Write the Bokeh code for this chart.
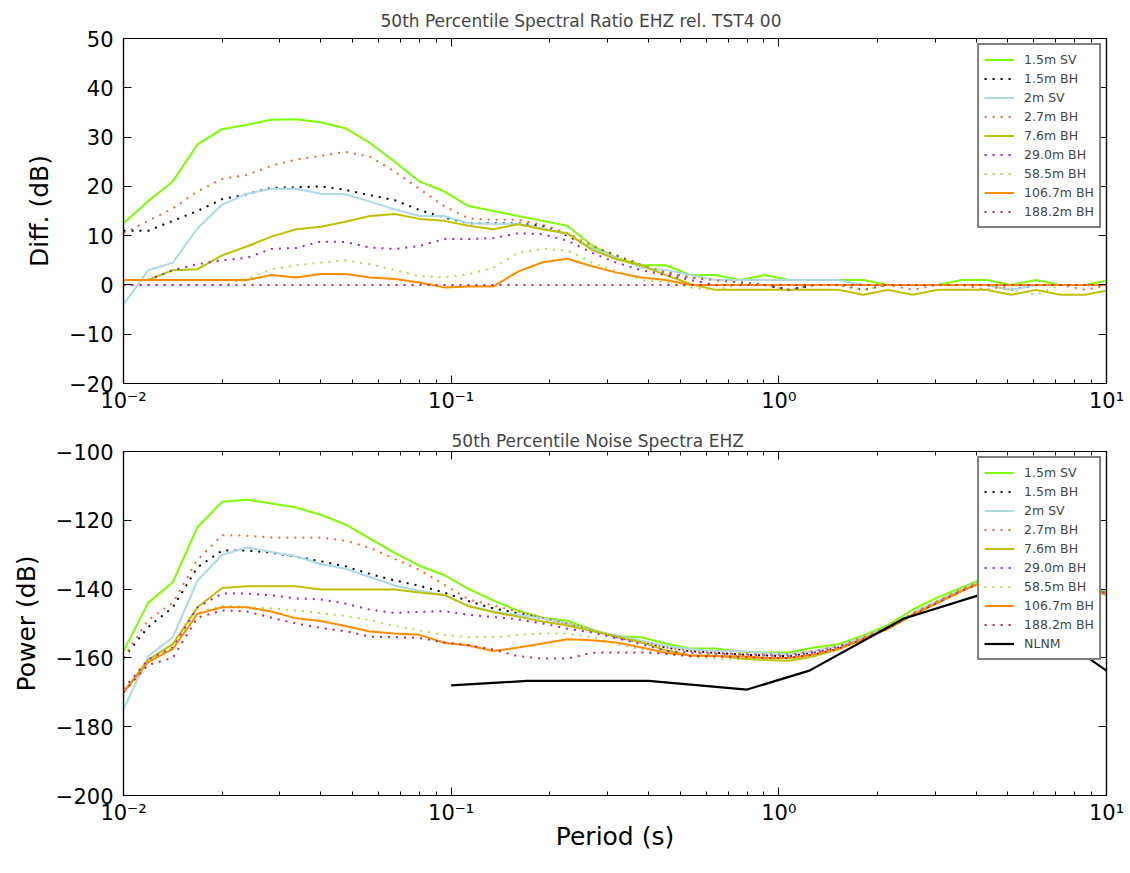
from bokeh.plotting import figure
from bokeh.layouts import column
from bokeh.models import (Range1d, FixedTicker, CustomJSTickFormatter, LogAxis,
                          LinearAxis)
from bokeh.embed import file_html
from bokeh.resources import INLINE

# ---------------- data ----------------
# period grid (quarter-octave steps from 0.01 s)
periods = [round(0.01 * 2 ** (k / 4), 6) for k in range(41)]

labels = ["1.5m SV", "1.5m BH", "2m SV", "2.7m BH", "7.6m BH",
          "29.0m BH", "58.5m BH", "106.7m BH", "188.2m BH"]

# spectral ratio (dB) relative to TST4 00
ratio_sv15 = [12.5, 17, 21, 28.5, 31.6, 32.5, 33.5, 33.6, 33, 31.8, 28.8, 25, 21, 19,
              16, 15, 14, 13, 12, 8, 5.5, 4, 4, 2, 2, 1, 2, 1, 1, 1, 1, 0, 0, 0, 1, 1,
              0, 1, 0, 0, 1]
ratio_bh15 = [11, 11, 13, 15, 17.4, 18.4, 19.7, 19.8, 20, 19.3, 18.2, 17.2, 15.2, 13.7,
              12.5, 12.5, 12.5, 12, 10, 7.5, 6, 4, 2.5, 1.5, 1, 0.5, 0, -1, 0, 0, 0, 0,
              0, 0, 0, 0, -1, 0, 0, 0, 0]
ratio_sv2 = [-4, 3, 4.5, 11.5, 16.3, 18.5, 19.5, 19.5, 18.5, 18.4, 16.9, 15.3, 14, 14,
             12.5, 12.4, 12.4, 11.5, 10.3, 7.5, 5.5, 3.5, 3, 2, 1, 1, 1, 1, 1, 1, 0, 0,
             0, 0, 0, 0, -1, 0, 0, 0, 0]
ratio_bh27 = [10.5, 13, 15.5, 19, 21.5, 22.3, 24.2, 25.4, 26.2, 27, 26, 23, 19.5, 16,
              13.5, 13.2, 13.2, 12.2, 10.5, 8, 6, 4, 2.5, 1.5, 1, 0.5, 0, 0, 0, 0, 0, 0,
              -1, 0, 0, -1, 0, 0, 0, -1, 0]
ratio_bh76 = [1, 1, 3, 3.2, 6, 7.8, 9.8, 11.3, 11.8, 12.8, 14, 14.4, 13.4, 13, 12, 11.3,
              12.3, 11.3, 10.5, 7.1, 5.2, 4, 2, 0.2, -1, -1, -1, -1, -1, -1, -2, -1, -2,
              -1, -1, -1, -2, -1, -2, -2, -1]
ratio_bh290 = [1, 1, 3, 4.2, 5, 5.5, 7.3, 7.5, 8.8, 8.7, 7.6, 7.3, 7.9, 9.3, 9.3, 9.5,
               10.5, 10.3, 9, 6.5, 4.5, 3, 2, 1, 0, 0, 0, -1, 0, 0, -1, 0, 0, 0, 0, 0,
               0, 0, 0, 0, 0]
ratio_bh585 = [0, 0, 0, 0, 0, 1.2, 3.2, 4, 4.5, 5, 4.2, 3, 1.8, 1.5, 2.2, 3.5, 6.5, 7.3,
               7, 4.5, 2.8, 1, 0.5, -0.5, -1, 0, 0, -1, 0, 0, -1, 0, 0, 0, 0, 0, -1, -2,
               0, 0, 0]
ratio_bh1067 = [1, 1, 1, 1, 1, 1, 2, 1.5, 2.2, 2.2, 1.5, 1.2, 0.5, -0.5, -0.3, -0.3, 2.7,
                4.6, 5.3, 3.8, 2.5, 1.5, 1, 0, 0, 0, 0, 0, 0, 0, 0, 0, 0, 0, 0, 0, 0, 0,
                0, 0, 0]
ratio_bh1882 = [0, 0, 0, 0, 0, 0, 0, 0, 0, 0, 0, 0, 0, 0, 0, 0, 0, 0, 0, 0, 0, 0, 0, 0,
                0, 0, 0, 0, 0, 0, 0, 0, 0, 0, 0, 0, 0, 0, 0, 0, 0]

# 50th percentile noise power (dB)
power_sv15 = [-158, -144, -138, -122, -114.6, -114, -115.1, -116.3, -118.4, -121.2,
              -125.3, -129.5, -133.2, -135.9, -140, -143.3, -146.3, -148.3, -149.2,
              -151.8, -153.7, -154, -155.8, -157.3, -157.3, -158.2, -158.4, -158.4,
              -157, -156, -153.5, -150.5, -146, -142.5, -139.5, -136.5, -135, -135.5,
              -137, -139, -141]
power_bh15 = [-160, -151, -145.3, -133.7, -128.8, -128.8, -129.4, -130.6, -131.9,
              -133.4, -135.6, -137.5, -139, -141, -143.5, -145.6, -147, -148.5, -150,
              -152, -154, -155.5, -157, -158, -158.5, -159, -159.3, -159.5, -158.3,
              -157, -154.5, -151.5, -147.5, -144, -140.5, -137.5, -136, -136, -137.5,
              -139.5, -141.5]
power_sv2 = [-175, -159.5, -154, -137.5, -130.1, -127.9, -129.2, -130.5, -132.7,
             -134.1, -136.5, -139, -140.5, -141.7, -144.8, -146.5, -147.5, -148.5, -150,
             -152, -153.5, -155, -156.5, -157.5, -158, -158, -158.5, -159, -158,
             -156.5, -154, -151, -147, -143.5, -140, -137, -135.5, -136, -137.5,
             -139.5, -141.5]
power_bh27 = [-160, -149, -144, -131.5, -124.3, -124.5, -125, -125, -125, -125.9, -128,
              -131.2, -134.4, -138.7, -143, -144.8, -146.5, -148.3, -150, -152, -154,
              -155.5, -157, -158, -158.5, -158.8, -159, -159, -158, -156.5, -154, -151,
              -147, -143.5, -140, -137, -135.5, -135.5, -137, -139, -141.5]
power_bh76 = [-170, -160.6, -156, -145.3, -139.7, -139.2, -139.2, -139.2, -140.1,
              -140.1, -140.1, -140.1, -141, -141.7, -145, -146.7, -148, -149.4, -150.6,
              -152.2, -153.8, -155.5, -157.8, -159.3, -159.3, -160.2, -160.6, -160.8,
              -159.5, -157.5, -154.5, -151.5, -147.5, -144, -140.5, -137.5, -136, -136,
              -137.5, -140, -142]
power_bh290 = [-169, -160.5, -157, -145.3, -141.3, -141.3, -141.8, -142.7, -143, -144.2,
               -146, -146.9, -146.6, -146.4, -147.5, -148.1, -148.8, -150, -151.5,
               -152.6, -154.3, -156, -158, -158.5, -158.8, -159, -159.3, -159.5, -158.5,
               -157, -154.5, -151.5, -147.5, -144, -140.5, -137.5, -136, -136, -137.5,
               -139.5, -141.5]
power_bh585 = [-170, -161, -157, -147, -144.8, -145.2, -145.6, -146.2, -147, -147.8,
               -149, -150.7, -152, -153.3, -154, -154, -153.3, -152.9, -152.9, -154,
               -156, -157.5, -158.6, -159.6, -160.2, -160.5, -160.5, -160.5, -159.5,
               -157.5, -154.5, -151.5, -147.5, -144, -140.5, -137.5, -136, -136, -137.5,
               -140, -142]
power_bh1067 = [-170, -161.2, -157.4, -147.2, -145.3, -145.3, -146.5, -148.5, -149.3,
                -150.7, -152.3, -152.9, -153.3, -155.6, -156.4, -158, -157, -155.8,
                -154.6, -154.9, -155.5, -157, -158.5, -159.3, -159.5, -159.5, -160, -160,
                -159, -157.3, -154.5, -151.5, -147.5, -144, -140.5, -137.5, -136, -136,
                -137.5, -139.5, -141.5]
power_bh1882 = [-170, -162, -160, -148.3, -146.2, -146.5, -148.3, -150, -151.3, -152.2,
                -153.8, -154, -154.2, -155.5, -156.3, -157.6, -159.5, -160.2, -160.2,
                -158.5, -158.4, -158.4, -158.8, -159.5, -159.5, -159.8, -160, -160, -159,
                -157.3, -154.5, -151.5, -147.5, -144, -140.5, -137.5, -136, -136, -137.5,
                -139.5, -141.5]

# Peterson New Low Noise Model
nlnm_period = [0.10, 0.17, 0.40, 0.80, 1.24, 2.40, 4.30, 5.00, 6.00, 10.00]
nlnm_power = [-168.0, -166.7, -166.7, -169.2, -163.7, -148.6, -141.1, -141.1, -149.0,
              -163.7]

ratio_series = [ratio_sv15, ratio_bh15, ratio_sv2, ratio_bh27, ratio_bh76,
                ratio_bh290, ratio_bh585, ratio_bh1067, ratio_bh1882]
power_series = [power_sv15, power_bh15, power_sv2, power_bh27, power_bh76,
                power_bh290, power_bh585, power_bh1067, power_bh1882]

# ---------------- styles ----------------
colors = ["#7CFC00", "#000000", "#ADD8E6", "#F4623A", "#BFBF00",
          "#9A22C8", "#A8E04A", "#FF8C00", "#C8215A"]
dashes = ["solid", "2 6", "solid", "2 6", "solid", "2 6", "2 6", "solid", "2 6"]

FONT = "DejaVu Sans"

x_major = [0.01, 0.1, 1, 10]
x_minor = [m * d for d in [0.01, 0.1, 1] for m in range(2, 10)]

sup_fmt = CustomJSTickFormatter(code="""
const sup = {'-':'\u207b','0':'\u2070','1':'\u00b9','2':'\u00b2','3':'\u00b3'};
const e = Math.round(Math.log10(tick));
return '10' + String(e).split('').map(c => sup[c]).join('');
""")
minus_fmt = CustomJSTickFormatter(code="""
return tick < 0 ? '\u2212' + Math.abs(tick) : String(tick);
""")
blank_fmt = CustomJSTickFormatter(code="return '';")


def style_axis(ax, labels_on=True):
    ax.axis_line_color = "black"
    ax.axis_line_width = 1.2
    ax.major_tick_in = 8
    ax.major_tick_out = 0
    ax.minor_tick_in = 4
    ax.minor_tick_out = 0
    ax.major_tick_line_color = "black"
    ax.minor_tick_line_color = "black"
    ax.major_label_text_font = FONT
    ax.major_label_text_font_size = "21px" if labels_on else "0px"
    ax.major_label_text_color = "black"
    ax.major_label_standoff = 10 if labels_on else 0
    ax.axis_label_text_font = FONT
    ax.axis_label_text_font_size = "25px"
    ax.axis_label_text_font_style = "normal"
    ax.axis_label_text_color = "black"


def make_fig(title, title_offset, title_standoff, yr, yticks, ylabel, frame_h, top,
             bottom):
    p = figure(x_axis_type="log", x_range=Range1d(0.01, 10), y_range=Range1d(*yr),
               frame_width=983, frame_height=frame_h,
               min_border_left=123, min_border_right=18,
               min_border_top=top, min_border_bottom=bottom,
               output_backend="svg", toolbar_location=None, title=title)
    p.title.text_font = FONT
    p.title.text_font_size = "17px"
    p.title.text_font_style = "normal"
    p.title.align = "left"
    p.title.offset = title_offset
    p.title.standoff = title_standoff
    p.xgrid.visible = False
    p.ygrid.visible = False
    p.outline_line_color = "black"
    p.outline_line_width = 1.2
    p.background_fill_color = "white"
    p.border_fill_color = "white"

    p.xaxis.ticker = FixedTicker(ticks=x_major, minor_ticks=x_minor)
    p.xaxis.formatter = sup_fmt
    p.yaxis.ticker = FixedTicker(ticks=yticks)
    p.yaxis.formatter = minus_fmt
    p.yaxis.axis_label = ylabel
    p.yaxis.axis_label_standoff = 12
    for ax in p.xaxis + p.yaxis:
        style_axis(ax)
    p.yaxis.minor_tick_in = 0
    p.xaxis.major_label_standoff = 5

    ax_top = LogAxis(ticker=FixedTicker(ticks=x_major, minor_ticks=x_minor),
                     formatter=blank_fmt)
    style_axis(ax_top, labels_on=False)
    p.add_layout(ax_top, "above")
    ax_right = LinearAxis(ticker=FixedTicker(ticks=yticks), formatter=blank_fmt)
    style_axis(ax_right, labels_on=False)
    ax_right.minor_tick_in = 0
    p.add_layout(ax_right, "right")
    return p


def style_legend(p):
    lg = p.legend[0]
    lg.location = "top_right"
    lg.margin = 5
    lg.padding = 5
    lg.spacing = 0
    lg.label_text_font = FONT
    lg.label_text_font_size = "12.5px"
    lg.label_height = 19
    lg.glyph_height = 19
    lg.glyph_width = 30
    lg.label_standoff = 10
    lg.border_line_color = "black"
    lg.border_line_width = 2
    lg.background_fill_color = "white"
    lg.background_fill_alpha = 1.0


# ---------------- top: spectral ratio ----------------
p1 = make_fig("50th Percentile Spectral Ratio EHZ rel. TST4 00", 257, 15, (-20, 50),
              list(range(-20, 51, 10)), "Diff. (dB)", 345, 38, 40)
for vals, lab, col, dash in zip(ratio_series, labels, colors, dashes):
    p1.line(periods, vals, line_color=col, line_width=2, line_dash=dash,
            legend_label=lab)
style_legend(p1)

# ---------------- bottom: noise spectra ----------------
p2 = make_fig("50th Percentile Noise Spectra EHZ", 328, 2, (-200, -100),
              list(range(-200, -99, 20)), "Power (dB)", 344, 28, 64)
for vals, lab, col, dash in zip(power_series, labels, colors, dashes):
    p2.line(periods, vals, line_color=col, line_width=2, line_dash=dash,
            legend_label=lab)
p2.line(nlnm_period, nlnm_power, line_color="black", line_width=2.2,
        legend_label="NLNM")
p2.below[0].axis_label = "Period (s)"
p2.below[0].axis_label_standoff = -6
style_legend(p2)

layout = column(p1, p2)
with open("out.html", "w", encoding="utf-8") as f:
    f.write(file_html(layout, INLINE))
